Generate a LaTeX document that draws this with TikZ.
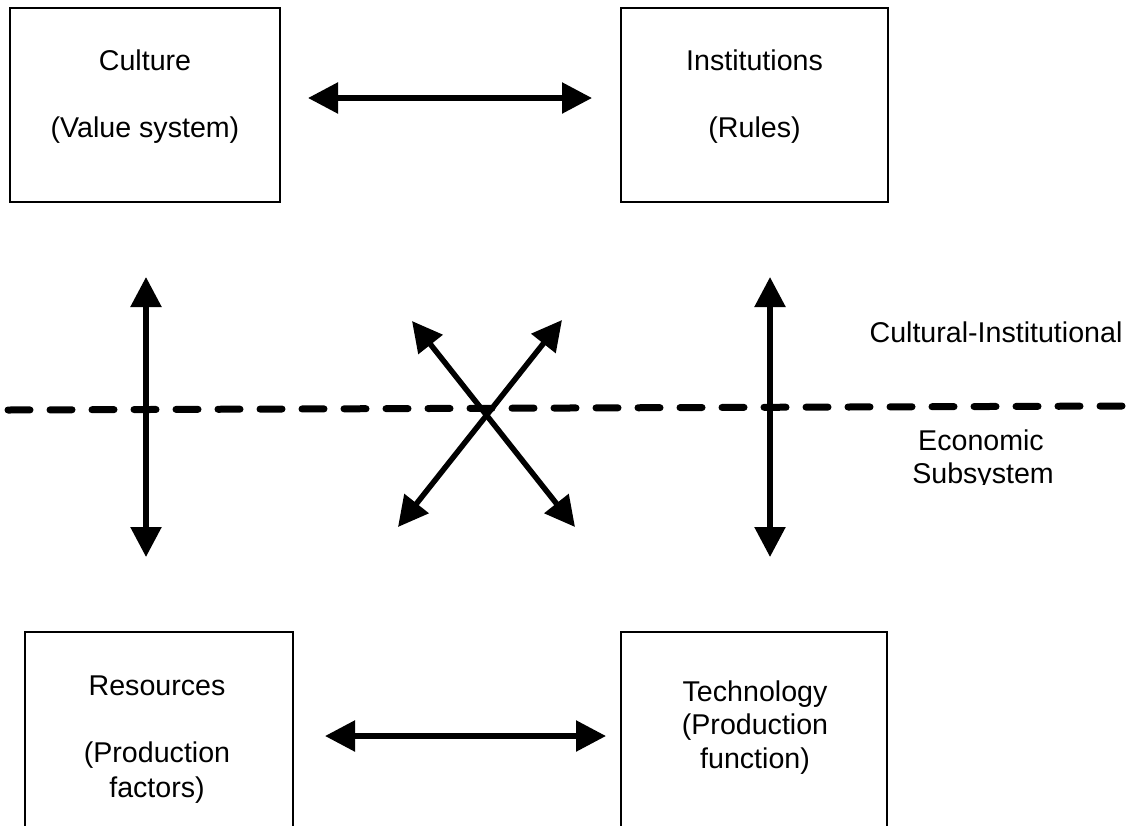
\documentclass[tikz,border=0pt]{standalone}
\usepackage{fontspec}
\setmainfont{Liberation Sans}
\usetikzlibrary{arrows.meta}
\newcommand\diagfont{\fontsize{28.6}{33.5}\selectfont}
\tikzset{
  box/.style={draw, line width=1.5pt, inner sep=0pt, outer sep=0pt},
  lbl/.style={font=\diagfont, anchor=base, inner sep=0pt, outer sep=0pt},
  biarrow/.style={line width=5.5pt,
    {Triangle[length=30pt,width=30pt]}-{Triangle[length=30pt,width=30pt]}},
  divider/.style={line width=7pt, dash pattern=on 22pt off 20pt, line cap=round}
}
\begin{document}
\begin{tikzpicture}[x=1pt,y=-1pt]
\useasboundingbox (0,0) rectangle (1131,825);
\clip (0,0) rectangle (1131,825);

% boxes
\node[box, minimum width=270pt, minimum height=194pt] (culture) at (145,105) {};
\node[box, minimum width=267pt, minimum height=194pt] (inst) at (754.5,105) {};
\node[box, minimum width=268pt, minimum height=230pt] (res) at (159,747) {};
\node[box, minimum width=266pt, minimum height=230pt] (tech) at (754,747) {};

% box texts
\node[lbl] (cultureA) at (145,70) {Culture};
\node[lbl] (cultureB) at (145,137) {(Value system)};
\node[lbl] (instA) at (754.5,70) {Institutions};
\node[lbl] (instB) at (754.5,137) {(Rules)};
\node[lbl] (resA) at (157,695) {Resources};
\node[lbl] (resB) at (157,762) {(Production};
\node[lbl] (resC) at (157,797) {factors)};
\node[lbl] (techA) at (755,701) {Technology};
\node[lbl] (techB) at (755,734.5) {(Production};
\node[lbl] (techC) at (755,768) {function)};

% side labels
\node[lbl] (upper) at (996,342) {Cultural-Institutional};
\node[lbl] (econA) at (981,450) {Economic};
\begin{scope}
  \clip (880,455) rectangle (1090,484);
  \node[lbl] (econB) at (983,483) {Subsystem};
\end{scope}

% dividing line
\coordinate (dL) at (8,410);
\coordinate (dR) at (1127,406);
\draw[divider] (dL) -- (dR);

% arrow end points
\coordinate (tA) at (308,98);   \coordinate (tB) at (592,98);
\coordinate (bA) at (325,736);  \coordinate (bB) at (606,736);
\coordinate (lA) at (146,277);  \coordinate (lB) at (146,557);
\coordinate (rA) at (770,277);  \coordinate (rB) at (770,557);
\coordinate (xA) at (398,527);  \coordinate (xB) at (562,320);
\coordinate (yA) at (412,321);  \coordinate (yB) at (575,527);

\draw[biarrow] (tA) -- (tB);
\draw[biarrow] (bA) -- (bB);
\draw[biarrow] (lA) -- (lB);
\draw[biarrow] (rA) -- (rB);
\draw[biarrow] (xA) -- (xB);
\draw[biarrow] (yA) -- (yB);
\end{tikzpicture}
\end{document}
